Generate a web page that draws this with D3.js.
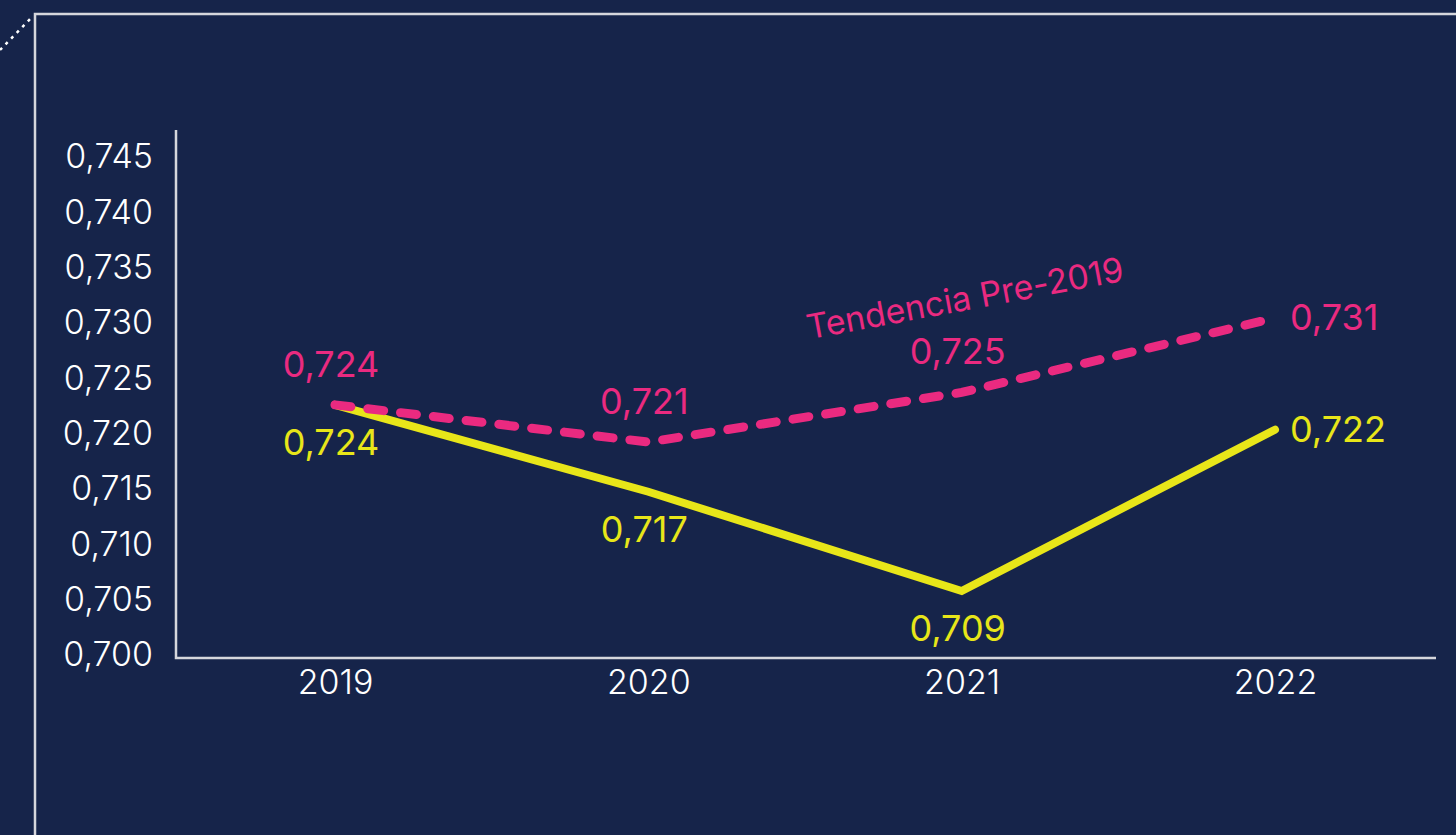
<!DOCTYPE html>
<html>
<head>
<meta charset="utf-8">
<script src="https://cdn.jsdelivr.net/npm/d3@7"></script>
<style>
  html, body { margin: 0; padding: 0; background: #16244a; }
  svg { display: block; }
</style>
</head>
<body>
<div id="chart"></div>
<script>
// data
var years = ["2019", "2020", "2021", "2022"];
var actual = [0.724, 0.717, 0.709, 0.722];      // yellow line
var trend = [0.724, 0.721, 0.725, 0.731];       // pink dashed line, "Tendencia Pre-2019"
var actualPos = ["below", "below", "below", "right"];
var trendPos = ["above", "above", "above", "right"];
var yTicks = [0.700, 0.705, 0.710, 0.715, 0.720, 0.725, 0.730, 0.735, 0.740, 0.745];
var trendName = "Tendencia Pre-2019";

var W = 1456, H = 835;
var bg = "#16244a", yellow = "#e8e619", pink = "#ea2a80", axisCol = "#d6d6dc";
var font = "Inter, 'Noto Sans', sans-serif";

var svg = d3.select("#chart").append("svg")
    .attr("width", W)
    .attr("height", H)
    .style("font-family", font);

svg.append("rect").attr("width", W).attr("height", H).attr("fill", bg);

// frame around the card
svg.append("path")
    .attr("d", "M35,835 L35,14 L1456,14")
    .attr("fill", "none")
    .attr("stroke", axisCol)
    .attr("stroke-width", 2.5);
svg.append("line")
    .attr("x1", 0).attr("y1", 50).attr("x2", 33).attr("y2", 16)
    .attr("stroke", "#ffffff")
    .attr("stroke-width", 2.5)
    .attr("stroke-dasharray", "3,5");

// comma decimals
var esFormat = d3.formatLocale({decimal: ",", thousands: ".", grouping: [3], currency: ["", " €"]}).format(".3f");

// scales
var x = d3.scalePoint().domain(years).range([335, 1275]);
var yAxisScale = d3.scaleLinear().domain([0.700, 0.745]).range([655, 157]);
// the plotted lines in the original sit on their own (looser) scale
var y = d3.scaleLinear().domain(d3.extent(actual.concat(trend))).range([591, 318]);

// axes
var gy = svg.append("g")
    .attr("transform", "translate(176,0)")
    .call(d3.axisLeft(yAxisScale).tickValues(yTicks).tickFormat(esFormat).tickSize(0).tickPadding(23));
gy.select(".domain").remove();
gy.selectAll("text")
    .attr("fill", "#ffffff")
    .attr("font-size", 34)
    .attr("font-weight", 300)
    .attr("font-family", font);

var gx = svg.append("g")
    .attr("transform", "translate(0,658)")
    .call(d3.axisBottom(x).tickSize(0).tickPadding(12));
gx.select(".domain").remove();
gx.selectAll("text")
    .attr("fill", "#ffffff")
    .attr("font-size", 34)
    .attr("font-weight", 300)
    .attr("font-family", font);

svg.append("path")
    .attr("d", "M176,130 L176,658 L1436,658")
    .attr("fill", "none")
    .attr("stroke", axisCol)
    .attr("stroke-width", 2.5);

// lines
var line = d3.line()
    .x(function(d, i) { return x(years[i]); })
    .y(function(d) { return y(d); });

svg.append("path")
    .datum(actual)
    .attr("d", line)
    .attr("fill", "none")
    .attr("stroke", yellow)
    .attr("stroke-width", 8)
    .attr("stroke-linecap", "round")
    .attr("stroke-linejoin", "miter");

svg.append("path")
    .datum(trend)
    .attr("d", line)
    .attr("fill", "none")
    .attr("stroke", pink)
    .attr("stroke-width", 9)
    .attr("stroke-linecap", "round")
    .attr("stroke-dasharray", "16,17");

// value labels
function addLabels(values, pos, color) {
  svg.append("g").selectAll("text")
    .data(values)
    .enter()
    .append("text")
    .attr("x", function(d, i) {
      return pos[i] == "right" ? x(years[i]) + 15 : x(years[i]) - 4;
    })
    .attr("y", function(d, i) {
      if (pos[i] == "above") return y(d) - 28;
      if (pos[i] == "below") return y(d) + 50;
      return y(d) + 12;
    })
    .attr("text-anchor", function(d, i) { return pos[i] == "right" ? "start" : "middle"; })
    .attr("fill", color)
    .attr("font-size", 36)
    .text(function(d) { return esFormat(d); });
}
addLabels(trend, trendPos, pink);
addLabels(actual, actualPos, yellow);

// series name along the trend
svg.append("text")
    .attr("transform", "translate(967,310) rotate(-10.5)")
    .attr("text-anchor", "middle")
    .attr("fill", pink)
    .attr("font-size", 34)
    .text(trendName);
</script>
</body>
</html>
